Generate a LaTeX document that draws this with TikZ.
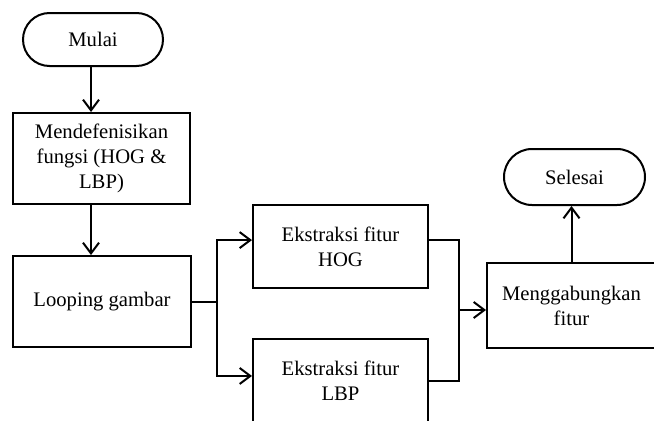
\documentclass[tikz,border=0pt]{standalone}
\usepackage{fontspec}
\setmainfont{Liberation Serif}
\usetikzlibrary{arrows.meta, shapes.misc}

\begin{document}
\begin{tikzpicture}[x=0.75pt, y=-0.75pt, >={Straight Barb[length=8pt, width=12pt]}, line width=1.5pt,
    proses/.style={draw, rectangle, align=center, inner sep=0pt, font=\fontsize{15.5}{18.75}\selectfont},
    terminal/.style={draw, rounded rectangle, align=center, inner sep=0pt, font=\fontsize{15.5}{18.75}\selectfont}]

    \clip (0,0) rectangle (654,421);

    %define the blocks of the flowchart
    \node[terminal, minimum width=105pt, minimum height=39.75pt] (mulai) at (93,39.5) {Mulai};
    \node[proses, minimum width=132.75pt, minimum height=68.25pt] (definisi) at (101.5,158.5) {Mendefenisikan\\fungsi (HOG \&\\LBP)};
    \node[proses, minimum width=133.5pt, minimum height=68.25pt] (looping) at (102,301.5) {Looping gambar};
    \node[proses, minimum width=131.25pt, minimum height=62.25pt] (hog) at (340.5,246.5) {Ekstraksi fitur\\HOG};
    \node[proses, minimum width=131.25pt, minimum height=62.25pt] (lbp) at (340.5,380.5) {Ekstraksi fitur\\LBP};
    \node[proses, minimum width=126.75pt, minimum height=63.75pt] (gabung) at (571.5,305.5) {Menggabungkan\\fitur};
    \node[terminal, minimum width=105.75pt, minimum height=42pt] (selesai) at (574.5,177) {Selesai};

    %define the branch points
    \coordinate (cabang) at (217,301.5);
    \coordinate (sambung) at (459,310);

    %define the links
    \draw[->] (mulai.south -| 91,0) -- (definisi.north -| 91,0);
    \draw[->] (definisi.south -| 91,0) -- (looping.north -| 91,0);
    \draw (looping.east) -- (cabang);
    \draw[->] (cabang) |- ([yshift=4.8pt]hog.west);
    \draw[->] (cabang) |- ([yshift=3.4pt]lbp.west);
    \draw ([yshift=4.8pt]hog.east) -| (sambung) |- (lbp.east);
    \draw[->] (sambung) -- (sambung -| gabung.west);
    \draw[->] (gabung.north) -- (gabung.north |- selesai.south);
\end{tikzpicture}
\end{document}
